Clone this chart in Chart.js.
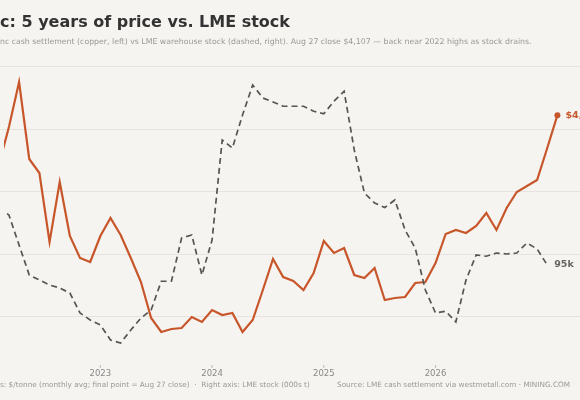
<!DOCTYPE html>
<html lang="en">
<head>
    <meta charset="UTF-8">
    <title>Zinc: price vs LME stock</title>
    <style>
        html, body { margin: 0; padding: 0; background: #f6f4f0; }
        .wrap { width: 580px; height: 400px; position: relative; }
    </style>
    <script src="https://cdn.jsdelivr.net/npm/chart.js"></script>
</head>
<body>
    <div class="wrap"><canvas id="myChart" width="580" height="400"></canvas></div>
    <script>
        // zinc cash price, $/t (first value sits just off the left edge)
        const price = [3708, 4012, 4372, 3756, 3644, 3092, 3572, 3140, 2964, 2932,
            3140, 3284, 3148, 2964, 2772, 2484, 2372, 2396, 2404, 2492,
            2452, 2548, 2508, 2524, 2372, 2468, 2708, 2956, 2812, 2780,
            2708, 2844, 3100, 3004, 3044, 2828, 2804, 2884, 2628, 2644,
            2652, 2764, 2772, 2924, 3156, 3188, 3164, 3220, 3324, 3188,
            3364, 3492, 3540, 3588, 3844, 4107];
        // LME warehouse stock, 000s t
        const stock = [140.6, 135, 111, 87, 83, 79, 76.6, 72.6, 56.6, 51,
            47, 35, 32.6, 43, 52.6, 59, 82, 82, 116.6, 119,
            87, 115, 195, 188.6, 215, 239, 228.6, 225.4, 222, 222,
            222, 218, 216, 226, 234, 187, 152.6, 144.6, 141, 147,
            123, 108.6, 75, 56.6, 58, 49.4, 83, 103, 102, 104.6,
            103.8, 104.6, 112.6, 107.8, 95];
        const yearTicks = [9, 20, 31, 42];
        const yearLabels = ['2023', '2024', '2025', '2026'];
        const priceTicks = [2500, 3000, 3500, 4000, 4500];

        const toPts = arr => arr.map((v, i) => ({ x: i - 1, y: v }));
        const font = '"DejaVu Sans", sans-serif';

        const gridPlugin = {
            id: 'grid',
            beforeDatasetsDraw(chart) {
                const c = chart.ctx, ys = chart.scales.y;
                c.save();
                c.strokeStyle = '#e7e4df';
                c.lineWidth = 1;
                priceTicks.forEach(v => {
                    const py = Math.round(ys.getPixelForValue(v)) + 0.5;
                    c.beginPath(); c.moveTo(0, py); c.lineTo(580, py); c.stroke();
                });
                c.restore();
            }
        };

        const textPlugin = {
            id: 'texts',
            afterDraw(chart) {
                const c = chart.ctx;
                const xs = chart.scales.x, ys = chart.scales.y, y1 = chart.scales.y1;
                c.save();
                c.textBaseline = 'middle';
                // title, cropped on the left like the reference
                c.font = 'bold 16px ' + font;
                c.fillStyle = '#333';
                c.fillText('Zinc: 5 years of price vs. LME stock', -c.measureText('Zin').width, 23);
                c.font = '7.8px ' + font;
                c.fillStyle = '#9a9894';
                c.fillText('Zinc cash settlement (copper, left) vs LME warehouse stock (dashed, right). Aug 27 close $4,107 \u2014 back near 2022 highs as stock drains.',
                    -c.measureText('Zi').width, 42);
                // year ticks
                c.font = '8.5px ' + font;
                c.fillStyle = '#888';
                c.textAlign = 'center';
                c.strokeStyle = '#bbb';
                c.lineWidth = 1;
                yearTicks.forEach((t, i) => {
                    const px = xs.getPixelForValue(t);
                    c.beginPath(); c.moveTo(px, 365); c.lineTo(px, 368); c.stroke();
                    c.fillText(yearLabels[i], px, 374);
                });
                // footer
                c.textAlign = 'left';
                c.font = '7.3px ' + font;
                c.fillStyle = '#9a9894';
                c.fillText('Left axis: $/tonne (monthly avg; final point = Aug 27 close)  \u00b7  Right axis: LME stock (000s t)',
                    -c.measureText('Left axi').width, 385);
                c.fillText('Source: LME cash settlement via westmetall.com \u00b7 MINING.COM', 337, 385);
                // end labels
                const lp = price.length - 2, ls = stock.length - 2;
                c.font = 'bold 9.5px ' + font;
                c.fillStyle = '#c8562b';
                c.fillText('$4,107', xs.getPixelForValue(lp) + 8, ys.getPixelForValue(price[price.length - 1]));
                c.fillStyle = '#666';
                c.fillText('95k', xs.getPixelForValue(ls) + 7, y1.getPixelForValue(stock[stock.length - 1]));
                c.restore();
            }
        };

        new Chart(document.getElementById('myChart'), {
            type: 'line',
            data: {
                datasets: [{
                    data: toPts(stock),
                    yAxisID: 'y1',
                    borderColor: '#555',
                    borderWidth: 1.7,
                    borderDash: [6, 4],
                    pointRadius: 0,
                    tension: 0
                }, {
                    data: toPts(price),
                    yAxisID: 'y',
                    borderColor: '#c8562b',
                    borderWidth: 2.2,
                    pointRadius: price.map((v, i) => i === price.length - 1 ? 3 : 0),
                    pointBackgroundColor: '#c8562b',
                    pointBorderWidth: 0,
                    tension: 0
                }]
            },
            options: {
                responsive: false,
                animation: false,
                layout: { padding: { left: 0, right: 0, top: 55, bottom: 55 } },
                plugins: { legend: { display: false }, tooltip: { enabled: false } },
                scales: {
                    x: { type: 'linear', display: false, min: -0.485, max: 55.83 },
                    y: { display: false, min: 2268, max: 4588 },
                    y1: { position: 'right', display: false, min: 31, max: 263 }
                }
            },
            plugins: [gridPlugin, textPlugin]
        });
    </script>
</body>
</html>
